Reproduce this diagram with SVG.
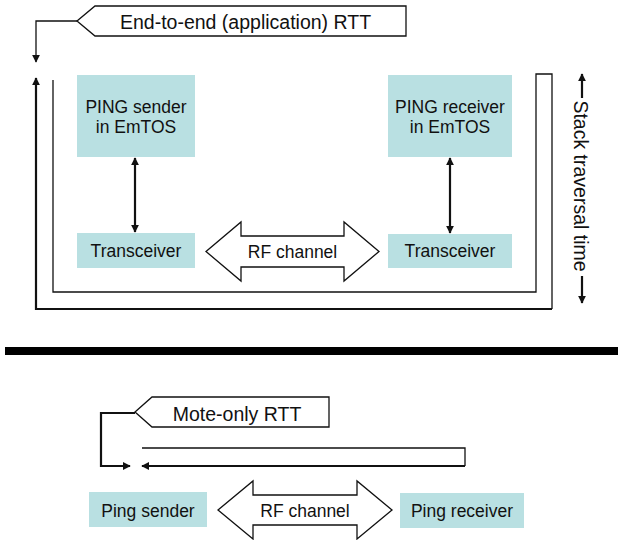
<svg xmlns="http://www.w3.org/2000/svg" width="618" height="540" viewBox="0 0 618 540">
  <style>
    .box { fill: #b9e0e2; }
    .lbl { font-family: "Liberation Sans", Arial, sans-serif; font-size: 17.5px; fill: #111; text-anchor: middle; }
    .call { font-family: "Liberation Sans", Arial, sans-serif; font-size: 19.5px; fill: #111; text-anchor: middle; }
    .shape { fill: #fff; stroke: #111; stroke-width: 1.3; stroke-linejoin: miter; }
    .thin { fill: none; stroke: #111; stroke-width: 1.3; }
    .thick { fill: none; stroke: #111; stroke-width: 2.2; }
  </style>
  <defs>
    <marker id="ah" viewBox="0 0 10 10" refX="9" refY="5" markerWidth="8" markerHeight="8" markerUnits="userSpaceOnUse" orient="auto-start-reverse">
      <path d="M0,0 L10,5 L0,10 z" fill="#111"/>
    </marker>
  </defs>

  <!-- upper half: application-level round trip -->
  <g id="callout-e2e">
    <path class="shape" d="M77,21 L95,6 H406 V36 H95 Z"/>
    <text class="call" x="245.5" y="29">End-to-end (application) RTT</text>
  </g>

  <g id="ping-sender-emtos">
    <rect class="box" x="77" y="75" width="118" height="82"/>
    <text class="lbl" x="136" y="112.5">PING sender</text>
    <text class="lbl" x="136" y="132.5">in EmTOS</text>
  </g>
  <g id="transceiver-left">
    <rect class="box" x="77" y="233" width="118" height="35"/>
    <text class="lbl" x="136" y="257">Transceiver</text>
  </g>
  <g id="ping-receiver-emtos">
    <rect class="box" x="388" y="75" width="124" height="82"/>
    <text class="lbl" x="450" y="112.5">PING receiver</text>
    <text class="lbl" x="450" y="132.5">in EmTOS</text>
  </g>
  <g id="transceiver-right">
    <rect class="box" x="388" y="234" width="124" height="34"/>
    <text class="lbl" x="450" y="257">Transceiver</text>
  </g>
  <g id="rf-channel-top">
    <path class="shape" d="M206,251.5 L241,222 V236 H344 V222 L379,251.5 L344,281 V267 H241 V281 Z"/>
    <text class="lbl" x="292.5" y="257.5">RF channel</text>
  </g>

  <g id="stack-label">
    <text class="call" transform="translate(574,186) rotate(90)" x="0" y="0">Stack traversal time</text>
  </g>

  <g id="connectors">
    <!-- callout to start marker -->
    <path class="thin" d="M77,21 H36 V62" stroke-width="1.6" marker-end="url(#ah)"/>
    <!-- stack traversal frame -->
    <path class="thin" d="M53,80 V292 H536 V74 H552 V309"/>
    <path class="thick" d="M552,309 H36 V78" marker-end="url(#ah)"/>
    <!-- app to radio links -->
    <path class="thick" d="M135,158 V232" marker-start="url(#ah)" marker-end="url(#ah)"/>
    <path class="thick" d="M450,158 V233" marker-start="url(#ah)" marker-end="url(#ah)"/>
    <!-- stack time span -->
    <path class="thick" d="M582,98 V74" marker-end="url(#ah)"/>
    <path class="thick" d="M582,276 V303" marker-end="url(#ah)"/>
    <!-- mote-level round trip -->
    <path class="thick" d="M135,413 H101 V466 H130" stroke-width="1.8" marker-end="url(#ah)"/>
    <path class="thin" d="M142,448 H465 V466"/>
    <path class="thick" d="M465,466 H142" marker-end="url(#ah)"/>
  </g>

  <!-- divider bar -->
  <rect x="5" y="347" width="613" height="8" fill="#000"/>

  <!-- lower half: mote-only round trip -->
  <g id="callout-mote">
    <path class="shape" d="M135,412 L152,397 H329 V427 H152 Z"/>
    <text class="call" x="237" y="420.5">Mote-only RTT</text>
  </g>
  <g id="ping-sender">
    <rect class="box" x="89" y="492" width="118" height="35"/>
    <text class="lbl" x="148" y="517">Ping sender</text>
  </g>
  <g id="ping-receiver">
    <rect class="box" x="400" y="493" width="124" height="35"/>
    <text class="lbl" x="462" y="517">Ping receiver</text>
  </g>
  <g id="rf-channel-bottom">
    <path class="shape" d="M218,510 L253,481 V495 H357 V481 L392,510 L357,539 V525 H253 V539 Z"/>
    <text class="lbl" x="305" y="517">RF channel</text>
  </g>
</svg>
